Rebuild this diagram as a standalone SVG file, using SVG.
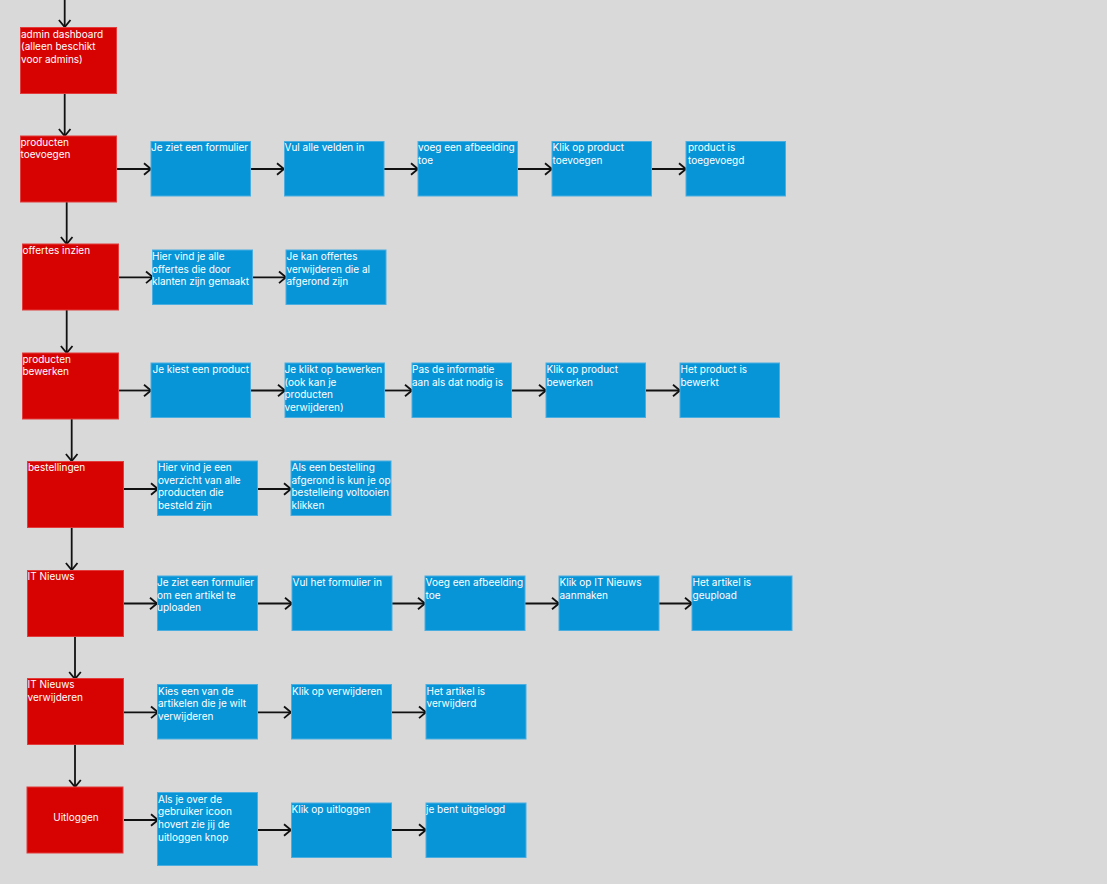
<svg xmlns="http://www.w3.org/2000/svg" width="1107" height="884" viewBox="0 0 1107 884">
<style>
.bg{fill:#d9d9d9}
.r{fill:#d70303;stroke:#e23c3c;stroke-width:1}
.b{fill:#0795d8;stroke:#4aaee0;stroke-width:1}
text{font-family:Inter,"Noto Sans","Liberation Sans",sans-serif;font-size:10px;fill:#ffffff}
.c line{stroke:#111;stroke-width:1.8;marker-end:url(#ah)}
</style>
<defs>
<marker id="ah" markerUnits="userSpaceOnUse" markerWidth="14" markerHeight="16" refX="9" refY="7" orient="auto">
<path d="M2,1.2 L9,7 L2,12.8" fill="none" stroke="#111" stroke-width="1.8"/>
</marker>
</defs>
<rect class="bg" x="0" y="0" width="1107" height="884"/>

<g id="connectors" class="c">
<line x1="64.7" y1="0" x2="64.7" y2="27"/>
<line x1="64.7" y1="93" x2="64.7" y2="136"/>
<line x1="66.7" y1="202" x2="66.7" y2="244"/>
<line x1="66.7" y1="310" x2="66.7" y2="353"/>
<line x1="71.7" y1="419" x2="71.7" y2="461"/>
<line x1="71.7" y1="527" x2="71.7" y2="570"/>
<line x1="75" y1="636" x2="75" y2="679"/>
<line x1="75" y1="745" x2="75" y2="787"/>

<line x1="117" y1="169" x2="151" y2="169"/>
<line x1="251" y1="169" x2="284" y2="169"/>
<line x1="384" y1="169" x2="418" y2="169"/>
<line x1="518" y1="169" x2="552" y2="169"/>
<line x1="652" y1="169" x2="686" y2="169"/>

<line x1="119" y1="277.3" x2="153" y2="277.3"/>
<line x1="253" y1="277.3" x2="286" y2="277.3"/>

<line x1="119" y1="390.5" x2="151" y2="390.5"/>
<line x1="251" y1="390.5" x2="285" y2="390.5"/>
<line x1="385" y1="390.5" x2="412" y2="390.5"/>
<line x1="512" y1="390.5" x2="546" y2="390.5"/>
<line x1="646" y1="390.5" x2="680" y2="390.5"/>

<line x1="124" y1="489" x2="158" y2="489"/>
<line x1="258" y1="489" x2="291" y2="489"/>

<line x1="124" y1="603.5" x2="157" y2="603.5"/>
<line x1="258" y1="603.5" x2="292" y2="603.5"/>
<line x1="392" y1="603.5" x2="425" y2="603.5"/>
<line x1="525" y1="603.5" x2="559" y2="603.5"/>
<line x1="659" y1="603.5" x2="692" y2="603.5"/>

<line x1="124" y1="712.3" x2="158" y2="712.3"/>
<line x1="258" y1="712.3" x2="291" y2="712.3"/>
<line x1="391" y1="712.3" x2="426" y2="712.3"/>

<line x1="124" y1="820" x2="158" y2="820"/>
<line x1="258" y1="830" x2="291" y2="830"/>
<line x1="391" y1="830" x2="426" y2="830"/>
</g>

<g id="n-admin"><rect class="r" x="20.5" y="27.5" width="96" height="66"/><text x="21" y="37.5"><tspan x="21">admin dashboard</tspan><tspan x="21" dy="12.7">(alleen beschikt</tspan><tspan x="21" dy="12.7">voor admins)</tspan></text></g>
<g id="n-prodtoev"><rect class="r" x="20.5" y="136" width="96" height="66"/><text x="20.5" y="145.5"><tspan x="20.5">producten</tspan><tspan x="20.5" dy="12.7">toevoegen</tspan></text></g>
<g id="n-offertes"><rect class="r" x="22.5" y="244" width="96" height="66"/><text x="22.5" y="254">offertes inzien</text></g>
<g id="n-prodbew"><rect class="r" x="22.5" y="353" width="96" height="66"/><text x="22.5" y="362.5"><tspan x="22.5">producten</tspan><tspan x="22.5" dy="12.7">bewerken</tspan></text></g>
<g id="n-bestellingen"><rect class="r" x="27.5" y="461.5" width="96" height="66"/><text x="28" y="471">bestellingen</text></g>
<g id="n-itnieuws"><rect class="r" x="27.5" y="570.5" width="96" height="66"/><text x="27.5" y="580">IT Nieuws</text></g>
<g id="n-itverw"><rect class="r" x="27.5" y="678.5" width="96" height="66"/><text x="27.5" y="688"><tspan x="27.5">IT Nieuws</tspan><tspan x="27.5" dy="12.7">verwijderen</tspan></text></g>
<g id="n-uitloggen"><rect class="r" x="27" y="787" width="96" height="66"/><text x="76" y="821" text-anchor="middle">Uitloggen</text></g>

<g id="r2-1"><rect class="b" x="151" y="141.5" width="99.5" height="54.5"/><text x="151" y="151">Je ziet een formulier</text></g>
<g id="r2-2"><rect class="b" x="284.5" y="141.5" width="99.5" height="54.5"/><text x="284.5" y="151">Vul alle velden in</text></g>
<g id="r2-3"><rect class="b" x="418" y="141.5" width="99.5" height="54.5"/><text x="418" y="151"><tspan x="418">voeg een afbeelding</tspan><tspan x="418" dy="12.7">toe</tspan></text></g>
<g id="r2-4"><rect class="b" x="552" y="141.5" width="99.5" height="54.5"/><text x="552.5" y="151"><tspan x="552.5">Klik op product</tspan><tspan x="552.5" dy="12.7">toevoegen</tspan></text></g>
<g id="r2-5"><rect class="b" x="686" y="141.5" width="99.5" height="54.5"/><text x="688" y="151"><tspan x="688">product is</tspan><tspan x="688" dy="12.7">toegevoegd</tspan></text></g>

<g id="r3-1"><rect class="b" x="152.5" y="250" width="100" height="54.5"/><text x="152" y="260"><tspan x="152">Hier vind je alle</tspan><tspan x="152" dy="12.7">offertes die door</tspan><tspan x="152" dy="12.7">klanten zijn gemaakt</tspan></text></g>
<g id="r3-2"><rect class="b" x="286" y="250" width="100" height="54.5"/><text x="286.5" y="260"><tspan x="286.5">Je kan offertes</tspan><tspan x="286.5" dy="12.7">verwijderen die al</tspan><tspan x="286.5" dy="12.7">afgerond zijn</tspan></text></g>

<g id="r4-1"><rect class="b" x="151" y="363" width="99.5" height="54.5"/><text x="152.5" y="373">Je kiest een product</text></g>
<g id="r4-2"><rect class="b" x="285" y="363" width="99.5" height="54.5"/><text x="284.5" y="373"><tspan x="284.5">Je klikt op bewerken</tspan><tspan x="284.5" dy="12.7">(ook kan je</tspan><tspan x="284.5" dy="12.7">producten</tspan><tspan x="284.5" dy="12.7">verwijderen)</tspan></text></g>
<g id="r4-3"><rect class="b" x="412" y="363" width="99.5" height="54.5"/><text x="412" y="373"><tspan x="412">Pas de informatie</tspan><tspan x="412" dy="12.7">aan als dat nodig is</tspan></text></g>
<g id="r4-4"><rect class="b" x="546" y="363" width="99.5" height="54.5"/><text x="546.5" y="373"><tspan x="546.5">Klik op product</tspan><tspan x="546.5" dy="12.7">bewerken</tspan></text></g>
<g id="r4-5"><rect class="b" x="680" y="363" width="99.5" height="54.5"/><text x="680.5" y="373"><tspan x="680.5">Het product is</tspan><tspan x="680.5" dy="12.7">bewerkt</tspan></text></g>

<g id="r5-1"><rect class="b" x="157.5" y="461" width="100" height="54.5"/><text x="158" y="471"><tspan x="158">Hier vind je een</tspan><tspan x="158" dy="12.7">overzicht van alle</tspan><tspan x="158" dy="12.7">producten die</tspan><tspan x="158" dy="12.7">besteld zijn</tspan></text></g>
<g id="r5-2"><rect class="b" x="291" y="461" width="100" height="54.5"/><text x="291.5" y="471"><tspan x="291.5">Als een bestelling</tspan><tspan x="291.5" dy="12.7">afgerond is kun je op</tspan><tspan x="291.5" dy="12.7">bestelleing voltooien</tspan><tspan x="291.5" dy="12.7">klikken</tspan></text></g>

<g id="r6-1"><rect class="b" x="157.5" y="576" width="100" height="54.5"/><text x="157" y="586"><tspan x="157">Je ziet een formulier</tspan><tspan x="157" dy="12.7">om een artikel te</tspan><tspan x="157" dy="12.7">uploaden</tspan></text></g>
<g id="r6-2"><rect class="b" x="292" y="576" width="100" height="54.5"/><text x="292.5" y="586">Vul het formulier in</text></g>
<g id="r6-3"><rect class="b" x="425" y="576" width="100" height="54.5"/><text x="425.5" y="586"><tspan x="425.5">Voeg een afbeelding</tspan><tspan x="425.5" dy="12.7">toe</tspan></text></g>
<g id="r6-4"><rect class="b" x="559" y="576" width="100" height="54.5"/><text x="559.5" y="586"><tspan x="559.5">Klik op IT Nieuws</tspan><tspan x="559.5" dy="12.7">aanmaken</tspan></text></g>
<g id="r6-5"><rect class="b" x="692" y="576" width="100" height="54.5"/><text x="692.5" y="586"><tspan x="692.5">Het artikel is</tspan><tspan x="692.5" dy="12.7">geupload</tspan></text></g>

<g id="r7-1"><rect class="b" x="157.5" y="684.5" width="100" height="54.5"/><text x="158" y="694.5"><tspan x="158">Kies een van de</tspan><tspan x="158" dy="12.7">artikelen die je wilt</tspan><tspan x="158" dy="12.7">verwijderen</tspan></text></g>
<g id="r7-2"><rect class="b" x="291.5" y="684.5" width="100" height="54.5"/><text x="292" y="694.5">Klik op verwijderen</text></g>
<g id="r7-3"><rect class="b" x="426" y="684.5" width="100" height="54.5"/><text x="426.5" y="694.5"><tspan x="426.5">Het artikel is</tspan><tspan x="426.5" dy="12.7">verwijderd</tspan></text></g>

<g id="r8-1"><rect class="b" x="157.5" y="792.5" width="100" height="73"/><text x="158" y="802.5"><tspan x="158">Als je over de</tspan><tspan x="158" dy="12.7">gebruiker icoon</tspan><tspan x="158" dy="12.7">hovert zie jij de</tspan><tspan x="158" dy="12.7">uitloggen knop</tspan></text></g>
<g id="r8-2"><rect class="b" x="291.5" y="803" width="100" height="54.5"/><text x="291.5" y="813">Klik op uitloggen</text></g>
<g id="r8-3"><rect class="b" x="426" y="803" width="100" height="54.5"/><text x="426" y="813">je bent uitgelogd</text></g>
</svg>
